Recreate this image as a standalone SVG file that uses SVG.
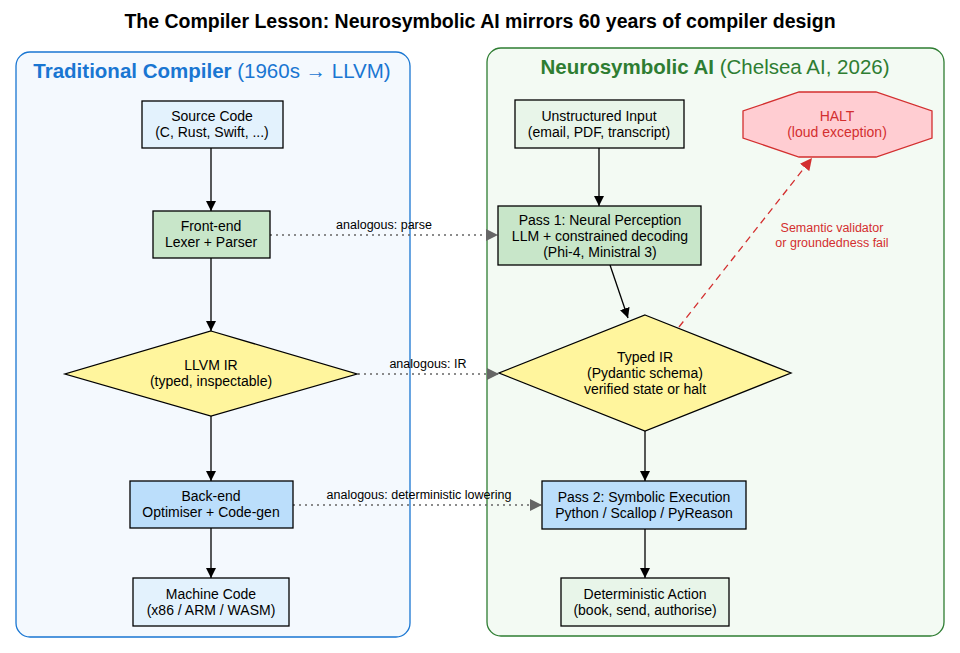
<svg xmlns="http://www.w3.org/2000/svg" width="960" height="653" viewBox="0 0 960 653">
<style>
text{font-family:"Liberation Sans",Arial,sans-serif;text-anchor:middle;fill:#000}
.n{font-size:14px}
.box{stroke:#000;stroke-width:1.3}
.e{stroke:#000;stroke-width:1.3;fill:none}
.d{stroke:#666;stroke-width:1.3;fill:none;stroke-dasharray:2,4}
.l{font-size:12.5px}
</style>
<defs>
<marker id="a" viewBox="0 0 10 10" refX="10" refY="5" markerWidth="10" markerHeight="10" markerUnits="userSpaceOnUse" orient="auto"><path d="M0,0L10,5L0,10z" fill="#000"/></marker>
<marker id="g" viewBox="0 0 10 10" refX="10" refY="5" markerWidth="16" markerHeight="12" markerUnits="userSpaceOnUse" orient="auto"><path d="M0,0L10,5L0,10z" fill="#666"/></marker>
<marker id="r" viewBox="0 0 10 10" refX="10" refY="5" markerWidth="12" markerHeight="12" markerUnits="userSpaceOnUse" orient="auto"><path d="M0,0L10,5L0,10z" fill="#d32f2f"/></marker>
</defs>
<rect width="960" height="653" fill="#fff"/>
<text x="480" y="28" style="font-size:19.5px;font-weight:bold">The Compiler Lesson: Neurosymbolic AI mirrors 60 years of compiler design</text>
<g id="cluster-left"><rect x="16" y="52" width="394" height="585" rx="14" fill="#f4f9fe" stroke="#1976d2" stroke-width="1.3"/>
<text x="212" y="78" style="font-size:20.5px;fill:#1976d2"><tspan font-weight="bold">Traditional Compiler</tspan> (1960s → LLVM)</text></g>
<g id="cluster-right"><rect x="487" y="48" width="457" height="588" rx="14" fill="#f3faf3" stroke="#2e7d32" stroke-width="1.3"/>
<text x="715" y="74" style="font-size:20.5px;fill:#2e7d32"><tspan font-weight="bold">Neurosymbolic AI</tspan> (Chelsea AI, 2026)</text></g>
<g id="connectors">
<path class="e" d="M211,148V211" marker-end="url(#a)"/>
<path class="e" d="M211,258V331" marker-end="url(#a)"/>
<path class="e" d="M211,416V481" marker-end="url(#a)"/>
<path class="e" d="M211,528V578" marker-end="url(#a)"/>
<path class="e" d="M599,148V206" marker-end="url(#a)"/>
<path class="e" d="M610,265L628,318" marker-end="url(#a)"/>
<path class="e" d="M645,431V481" marker-end="url(#a)"/>
<path class="e" d="M645,529V578" marker-end="url(#a)"/>
<path d="M679,327L812,158" stroke="#d32f2f" stroke-width="1.3" stroke-dasharray="7,5" fill="none" marker-end="url(#r)"/>
<text x="832" y="232" class="l" style="fill:#d32f2f">Semantic validator</text>
<text x="832" y="247" class="l" style="fill:#d32f2f">or groundedness fail</text>
<path class="d" d="M270,235H498" marker-end="url(#g)"/>
<text x="384" y="229" class="l">analogous: parse</text>
<path class="d" d="M358,374H499" marker-end="url(#g)"/>
<text x="428" y="368" class="l">analogous: IR</text>
<path class="d" d="M293,505H542" marker-end="url(#g)"/>
<text x="419" y="499" class="l">analogous: deterministic lowering</text>
</g>
<g id="source"><rect class="box" x="142" y="101" width="141" height="47" fill="#e3f2fd"/><text class="n" x="212" y="121">Source Code</text><text class="n" x="212" y="137">(C, Rust, Swift, ...)</text></g>
<g id="frontend"><rect class="box" x="153" y="211" width="117" height="47" fill="#c8e6c9"/><text class="n" x="211" y="231">Front-end</text><text class="n" x="211" y="247">Lexer + Parser</text></g>
<g id="llvmir"><path class="box" d="M211,331L357,374L211,416L65,374z" fill="#fff59d"/><text class="n" x="211" y="370">LLVM IR</text><text class="n" x="211" y="386">(typed, inspectable)</text></g>
<g id="backend"><rect class="box" x="130" y="481" width="163" height="47" fill="#bbdefb"/><text class="n" x="211" y="501">Back-end</text><text class="n" x="211" y="517">Optimiser + Code-gen</text></g>
<g id="machine"><rect class="box" x="133" y="578" width="156" height="48" fill="#e3f2fd"/><text class="n" x="211" y="599">Machine Code</text><text class="n" x="211" y="615">(x86 / ARM / WASM)</text></g>
<g id="input"><rect class="box" x="515" y="100" width="169" height="48" fill="#e8f5e9"/><text class="n" x="599" y="121">Unstructured Input</text><text class="n" x="599" y="137">(email, PDF, transcript)</text></g>
<g id="pass1"><rect class="box" x="498" y="206" width="203" height="59" fill="#c8e6c9"/><text class="n" x="600" y="225">Pass 1: Neural Perception</text><text class="n" x="600" y="241">LLM + constrained decoding</text><text class="n" x="600" y="257">(Phi-4, Ministral 3)</text></g>
<g id="typedir"><path class="box" d="M645,315L791,373L645,431L499,373z" fill="#fff59d"/><text class="n" x="645" y="362">Typed IR</text><text class="n" x="645" y="378">(Pydantic schema)</text><text class="n" x="645" y="394">verified state or halt</text></g>
<g id="halt"><path d="M799,92H876L932,111V138L876,157H799L743,138V111z" fill="#ffcdd2" stroke="#d32f2f" stroke-width="1.3"/><text class="n" x="837" y="121" style="fill:#d32f2f">HALT</text><text class="n" x="837" y="137" style="fill:#d32f2f">(loud exception)</text></g>
<g id="pass2"><rect class="box" x="542" y="481" width="204" height="48" fill="#bbdefb"/><text class="n" x="644" y="502">Pass 2: Symbolic Execution</text><text class="n" x="644" y="518">Python / Scallop / PyReason</text></g>
<g id="action"><rect class="box" x="561" y="578" width="168" height="48" fill="#e8f5e9"/><text class="n" x="645" y="599">Deterministic Action</text><text class="n" x="645" y="615">(book, send, authorise)</text></g>
</svg>
